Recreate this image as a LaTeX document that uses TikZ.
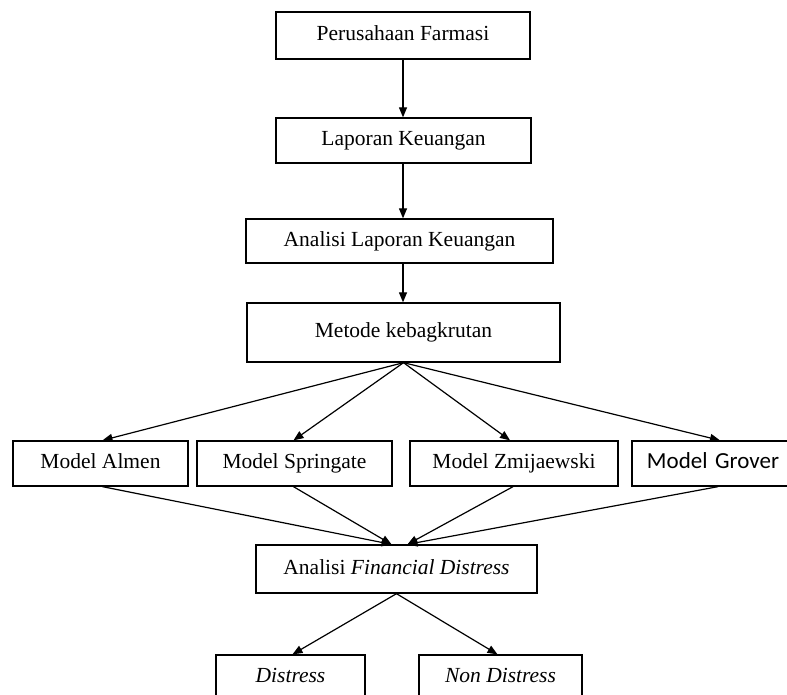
\documentclass[tikz,border=0pt]{standalone}
\usepackage{fontspec}
\setmainfont{Liberation Serif}
\newfontfamily\groverfont{Carlito}
\usepackage{tikz}
\usetikzlibrary{arrows.meta}

\begin{document}
\begin{tikzpicture}[
  x=1pt, y=-1pt,
  box/.style={draw=black, fill=white, line width=1.3pt, minimum height=45pt, inner sep=0pt, text height=15pt, text depth=5pt, align=center, font=\fontsize{21.5}{25}\selectfont},
  arrow/.style={-{Triangle[length=10pt,width=8pt]}, line width=1.2pt, draw=black},
]
\clip (0,0) rectangle (787,694);
\node[box, minimum width=254pt, minimum height=47pt] (pf) at (403,35.5) {Perusahaan Farmasi};
\node[box, minimum width=255pt] (lk) at (403.5,140.5) {Laporan Keuangan};
\node[box, minimum width=307pt, minimum height=44pt] (alk) at (399.5,241) {Analisi Laporan Keuangan};
\node[box, minimum width=313pt, minimum height=59pt] (mk) at (403.5,332.5) {Metode kebagkrutan};
\node[box, minimum width=175pt] (almen) at (100.5,463.5) {Model Almen};
\node[box, minimum width=195pt] (spring) at (294.5,463.5) {Model Springate};
\node[box, minimum width=208pt] (zmij) at (514,463.5) {Model Zmijaewski};
\node[box, minimum width=180pt, text width=158pt, align=center, font=\groverfont\fontsize{23}{27}\selectfont] (grover) at (722,463.5) {\hspace*{-18pt}Model Grover};
\node[box, minimum width=281pt, minimum height=48pt] (fd) at (396.5,569) {Analisi \textit{Financial Distress}};
\node[box, minimum width=149pt] (dis) at (290.5,677.5) {\textit{Distress}};
\node[box, minimum width=163pt] (ndis) at (500.5,677.5) {\textit{Non Distress}};
\draw[arrow] (pf.south) -- (pf.south |- lk.north);
\draw[arrow] (pf.south |- lk.south) -- (pf.south |- alk.north);
\draw[arrow] (pf.south |- alk.south) -- (pf.south |- mk.north);
\draw[arrow] (mk.south) -- ([xshift=2pt]almen.north);
\draw[arrow] (mk.south) -- ([xshift=-1pt]spring.north);
\draw[arrow] (mk.south) -- ([xshift=-4pt]zmij.north);
\draw[arrow] (mk.south) -- ([xshift=-2pt]grover.north);
\draw[arrow] ([xshift=2pt]almen.south) -- ([xshift=-5pt]fd.north);
\draw[arrow] ([xshift=-1pt]spring.south) -- ([xshift=-5pt]fd.north);
\draw[arrow] ([xshift=-1pt]zmij.south) -- ([xshift=11pt]fd.north);
\draw[arrow] ([xshift=-4pt]grover.south) -- ([xshift=11pt]fd.north);
\draw[arrow] (fd.south) -- ([xshift=2pt]dis.north);
\draw[arrow] (fd.south) -- ([xshift=-3pt]ndis.north);
\end{tikzpicture}
\end{document}
